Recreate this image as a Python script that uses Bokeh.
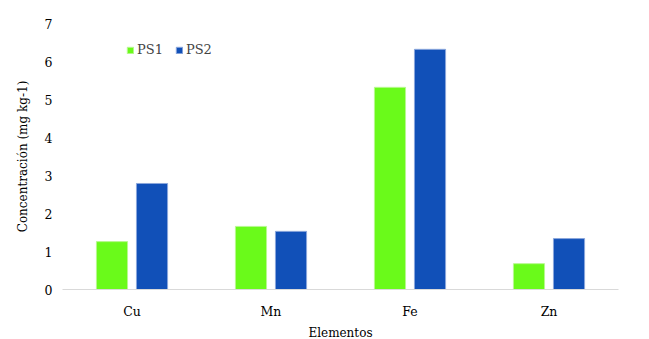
from bokeh.plotting import figure
from bokeh.models import FactorRange, Range1d, Legend, LegendItem, ColumnDataSource
from bokeh.transform import dodge
from bokeh.embed import file_html
from bokeh.resources import INLINE

elementos = ["Cu", "Mn", "Fe", "Zn"]
ps1 = [1.26, 1.66, 5.32, 0.68]
ps2 = [2.79, 1.53, 6.32, 1.34]
y_ticks = [0, 1, 2, 3, 4, 5, 6, 7]

FONT = "DejaVu Serif"
GREEN = "#6afa1a"
BLUE = "#1150b8"

src = ColumnDataSource(dict(x=elementos, ps1=ps1, ps2=ps2))

p = figure(frame_width=556, frame_height=266, output_backend="svg", toolbar_location=None,
           x_range=FactorRange(*elementos, range_padding=0), y_range=Range1d(0, 7),
           min_border_left=62, min_border_right=14, min_border_top=23, min_border_bottom=30)
p.outline_line_color = None
p.xgrid.visible = False
p.ygrid.visible = False

r1 = p.vbar(x=dodge("x", -0.144, range=p.x_range), top="ps1", width=0.224, source=src,
            fill_color=GREEN, line_color="#b8f890", line_width=1)
r2 = p.vbar(x=dodge("x", 0.144, range=p.x_range), top="ps2", width=0.224, source=src,
            fill_color=BLUE, line_color="#8aa6dc", line_width=1)

p.yaxis.ticker = y_ticks
p.yaxis.axis_line_color = None
p.yaxis.major_tick_line_color = None
p.yaxis.minor_tick_line_color = None
p.yaxis.major_label_standoff = 4
p.yaxis.axis_label = "Concentración (mg kg-1)"
p.yaxis.axis_label_standoff = 12

p.xaxis.axis_line_color = "#d9d9d9"
p.xaxis.axis_line_width = 1
p.xaxis.major_tick_line_color = None
p.xaxis.minor_tick_line_color = None
p.xaxis.major_label_standoff = 8
p.xaxis.axis_label = "Elementos"
p.xaxis.axis_label_standoff = 4

for ax in (p.xaxis[0], p.yaxis[0]):
    ax.major_label_text_font = FONT
    ax.major_label_text_font_size = "12.5px"
    ax.major_label_text_color = "#000000"
    ax.axis_label_text_font = FONT
    ax.axis_label_text_font_size = "12px"
    ax.axis_label_text_font_style = "normal"
    ax.axis_label_text_color = "#000000"

legend = Legend(items=[LegendItem(label="PS1", renderers=[r1]),
                       LegendItem(label="PS2", renderers=[r2])],
                orientation="horizontal", location=(64, 232),
                background_fill_alpha=0, border_line_color=None,
                padding=0, margin=0, spacing=12, label_standoff=3,
                glyph_width=8, glyph_height=8, label_height=12,
                label_text_font=FONT, label_text_font_size="13px")
p.add_layout(legend, "center")

open("out.html", "w").write(file_html(p, INLINE))
